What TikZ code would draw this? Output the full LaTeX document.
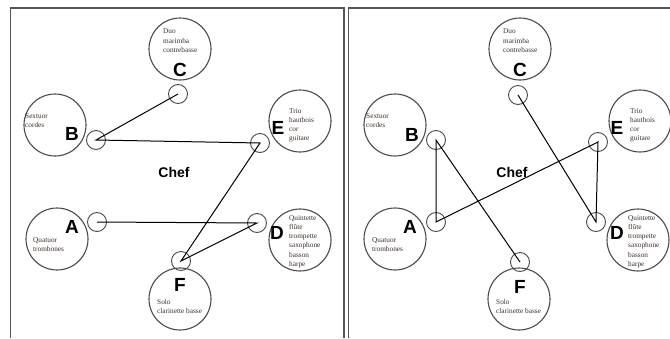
\documentclass[tikz,border=0pt]{standalone}
\usepackage{fontspec}
\setmainfont{Liberation Serif}
\setsansfont{Liberation Sans}
\definecolor{ringc}{HTML}{4A4A4A}
\definecolor{framec}{HTML}{555555}
\definecolor{txtc}{HTML}{3B2E28}
\begin{document}
\begin{tikzpicture}[x=1pt,y=-1pt,
  big/.style={circle,draw=ringc,line width=1.1pt,minimum size=62pt,inner sep=0pt},
  small/.style={circle,draw=ringc,line width=0.9pt,minimum size=19pt,inner sep=0pt},
  letter/.style={font=\sffamily\bfseries\fontsize{19}{19}\selectfont,inner sep=0pt},
  chef/.style={font=\sffamily\bfseries\fontsize{14}{14}\selectfont,inner sep=0pt},
  lab/.style={font=\fontsize{7.3}{9.3}\selectfont,text=txtc,align=left,anchor=north west,inner sep=0pt},
  link/.style={draw=black,line width=1pt}]
\useasboundingbox (0,0) rectangle (670,338);
% frames
\draw[framec,line width=1.2pt] (10.5,338) -- (10.5,8) -- (344,8) -- (344,338);
\draw[framec,line width=1.2pt] (348.5,338) -- (348.5,8) -- (671,8);
% ===== left panel =====
\node[big] (LbC) at (180,49) {};
\node[big] (LbB) at (55,125) {};
\node[big] (LbE) at (300,121) {};
\node[big] (LbA) at (57,239) {};
\node[big] (LbD) at (300,240) {};
\node[big] (LbF) at (180,299) {};
\node[small] (LsC) at (178,94) {};
\node[small] (LsB) at (96,140) {};
\node[small] (LsE) at (260,143) {};
\node[small] (LsA) at (97,222) {};
\node[small] (LsD) at (257,223) {};
\node[small] (LsF) at (181,261) {};
\node[letter] (LlC) at (180,70) {C};
\node[letter] (LlB) at (72,134) {B};
\node[letter] (LlE) at (278,128) {E};
\node[letter] (LlA) at (72,227) {A};
\node[letter] (LlD) at (277,233) {D};
\node[letter] (LlF) at (180,285) {F};
\node[chef] (Lchef) at (174,172) {Chef};
\node[lab] (LtC) at (163,29) {Duo\\marimba\\contrebasse};
\node[lab] (LtB) at (25,113.5) {Sextuor\\cordes};
\node[lab] (LtE) at (289,108) {Trio\\hautbois\\cor\\guitare};
\node[lab] (LtA) at (33,237.5) {Quatuor\\trombones};
\node[lab] (LtD) at (289,215) {Quintette\\flûte\\trompette\\saxophone\\basson\\harpe};
\node[lab] (LtF) at (157,299) {Solo\\clarinette basse};
\draw[link] (LsC.center) -- (LsB.center) -- (LsE.center) -- (LsF.center) -- (LsD.center) -- (LsA.center);
% ===== right panel =====
\node[big] (RbC) at (520,49) {};
\node[big] (RbB) at (395,125) {};
\node[big] (RbE) at (640,121) {};
\node[big] (RbA) at (395,239) {};
\node[big] (RbD) at (638,240) {};
\node[big] (RbF) at (519,299) {};
\node[small] (RsC) at (518,95) {};
\node[small] (RsB) at (436,140) {};
\node[small] (RsE) at (598,142) {};
\node[small] (RsA) at (436,222) {};
\node[small] (RsD) at (596,222) {};
\node[small] (RsF) at (520,262) {};
\node[letter] (RlC) at (520,70) {C};
\node[letter] (RlB) at (412,135) {B};
\node[letter] (RlE) at (617,128) {E};
\node[letter] (RlA) at (410,227) {A};
\node[letter] (RlD) at (617,233) {D};
\node[letter] (RlF) at (520,287) {F};
\node[chef] (Rchef) at (512,172) {Chef};
\node[lab] (RtC) at (503,29) {Duo\\marimba\\contrebasse};
\node[lab] (RtB) at (366,113.5) {Sextuor\\cordes};
\node[lab] (RtE) at (630,108) {Trio\\hautbois\\cor\\guitare};
\node[lab] (RtA) at (372,237.5) {Quatuor\\trombones};
\node[lab] (RtD) at (628,215) {Quintette\\flûte\\trompette\\saxophone\\basson\\harpe};
\node[lab] (RtF) at (496,299) {Solo\\clarinette basse};
\draw[link] (RsF.center) -- (RsB.center) -- (RsA.center) -- (RsE.center) -- (RsD.center) -- (RsC.center);
\end{tikzpicture}
\end{document}
